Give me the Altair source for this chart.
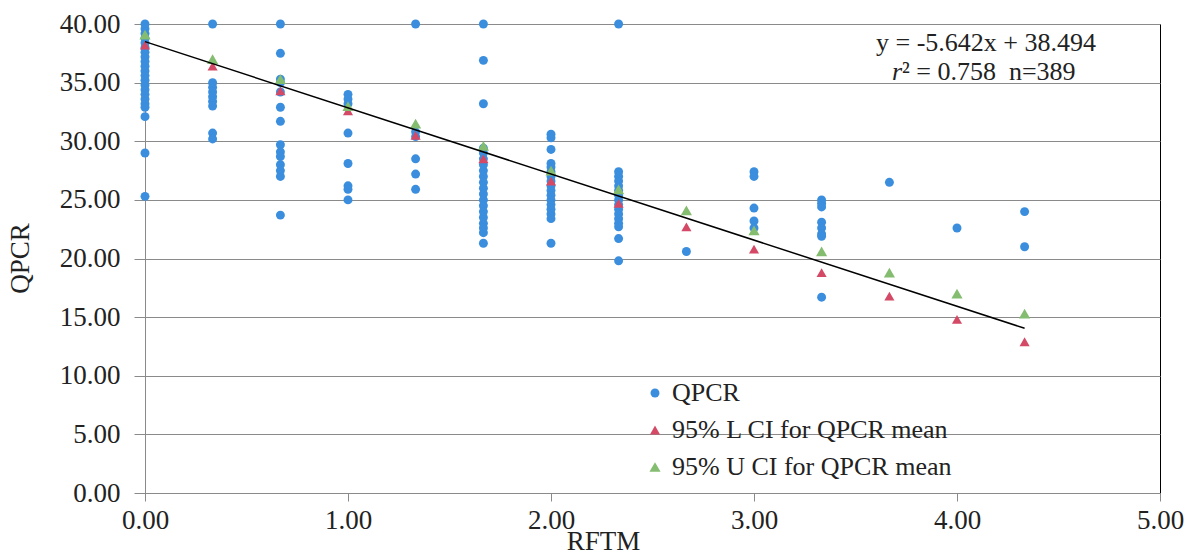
import altair as alt
import pandas as pd

# ---- data ----
rftm_levels = [0.0, 0.333, 0.667, 1.0, 1.333, 1.667, 2.0, 2.333, 2.667, 3.0, 3.333, 3.667, 4.0, 4.333]

qpcr_by_level = [
    [40.0, 39.6, 39.2, 38.8, 38.4, 38.0, 37.6, 37.2, 36.8, 36.4, 36.0, 35.6, 35.2, 34.8, 34.4, 34.0, 33.6, 33.2, 32.9, 32.1, 29.0, 25.3],
    [40.0, 35.0, 34.6, 34.2, 33.8, 33.4, 33.0, 30.7, 30.2],
    [40.0, 37.5, 35.3, 35.0, 34.2, 32.9, 31.7, 29.7, 29.1, 28.7, 28.0, 27.5, 27.0, 23.7],
    [34.0, 33.6, 33.2, 30.7, 28.1, 26.2, 25.9, 25.0],
    [40.0, 30.8, 30.4, 28.5, 27.2, 25.9],
    [40.0, 36.9, 33.2, 29.4, 29.0, 28.5, 28.0, 27.5, 27.0, 26.5, 26.0, 25.5, 25.0, 24.5, 24.0, 23.5, 23.0, 22.6, 22.2, 21.3],
    [30.6, 30.3, 29.3, 28.1, 27.8, 27.4, 27.0, 26.6, 26.2, 25.8, 25.4, 25.0, 24.6, 24.2, 23.8, 23.4, 21.3],
    [40.0, 27.4, 27.0, 26.6, 26.2, 25.8, 25.4, 25.0, 24.6, 24.2, 23.8, 23.4, 23.0, 22.7, 21.7, 19.8],
    [20.6],
    [27.4, 27.0, 24.3, 23.2, 22.6],
    [25.0, 24.7, 24.4, 23.1, 22.6, 22.1, 21.9, 16.7],
    [26.5],
    [22.6],
    [24.0, 21.0],
]

lower_ci = [38.2, 36.4, 34.3, 32.6, 30.5, 28.5, 26.6, 24.7, 22.7, 20.8, 18.8, 16.8, 14.8, 12.9]
upper_ci = [39.1, 37.0, 35.3, 33.0, 31.5, 29.6, 27.5, 25.9, 24.1, 22.4, 20.6, 18.8, 17.0, 15.3]

trend_x = [0.0, 4.333]
trend_y = [38.494, 14.047]

series_names = ["QPCR", "95% L CI for QPCR mean", "95% U CI for QPCR mean"]
series_colors = ["#3A8EDD", "#D44A66", "#85BD70"]
series_shapes = ["circle", "triangle-up", "triangle-up"]
series_sizes = [80, 125, 125]

eq_line1 = "y = -5.642x + 38.494"
eq_line2_r = "r"
eq_line2_rest = "\u00b2 = 0.758\u00a0\u00a0n=389"

# ---- build tables ----
rows = []
for x, vals in zip(rftm_levels, qpcr_by_level):
    for v in vals:
        rows.append({"RFTM": x, "QPCR": v, "series": series_names[0]})
for x, v in zip(rftm_levels, lower_ci):
    rows.append({"RFTM": x, "QPCR": v, "series": series_names[1]})
for x, v in zip(rftm_levels, upper_ci):
    rows.append({"RFTM": x, "QPCR": v, "series": series_names[2]})
df = pd.DataFrame(rows)
df["order"] = df["series"].map({n: i for i, n in enumerate(series_names)})

trend_df = pd.DataFrame({"RFTM": trend_x, "QPCR": trend_y})

FONT = "Liberation Serif"
TXT = "#222222"

xscale = alt.Scale(domain=[0, 5], nice=False)
yscale = alt.Scale(domain=[0, 40], nice=False)

points = alt.Chart(df).mark_point(filled=True, opacity=1, strokeWidth=0).encode(
    x=alt.X("RFTM:Q", scale=xscale,
            axis=alt.Axis(values=[0, 1, 2, 3, 4, 5], format=".2f", title="RFTM",
                          grid=False, tickSize=8, labelPadding=6, labelFlush=False,
                          titleX=458, titleY=48, titleBaseline="middle", titleAlign="center")),
    y=alt.Y("QPCR:Q", scale=yscale,
            axis=alt.Axis(values=[0, 5, 10, 15, 20, 25, 30, 35, 40], format=".2f", title="QPCR",
                          grid=True, tickSize=11, labelPadding=14, labelFlush=False,
                          titleX=-125, titleY=234, titleBaseline="middle", titleAlign="center",
                          titleAngle=-90)),
    color=alt.Color("series:N", scale=alt.Scale(domain=series_names, range=series_colors),
                    legend=alt.Legend(title=None, orient="none", legendX=497, legendY=356,
                                      symbolSize=60, labelOffset=4, rowPadding=11,
                                      labelFont=FONT, labelFontSize=26, labelColor=TXT,
                                      labelLimit=600, padding=0)),
    shape=alt.Shape("series:N", scale=alt.Scale(domain=series_names, range=series_shapes)),
    size=alt.Size("series:N", scale=alt.Scale(domain=series_names, range=series_sizes), legend=None),
    order=alt.Order("order:Q"),
)

trend = alt.Chart(trend_df).mark_line(color="black", strokeWidth=1.5).encode(
    x=alt.X("RFTM:Q", scale=xscale),
    y=alt.Y("QPCR:Q", scale=yscale),
)

t1 = alt.Chart(pd.DataFrame({"t": [eq_line1]})).mark_text(
    font=FONT, fontSize=26, color=TXT, align="center", baseline="middle"
).encode(text="t:N", x=alt.value(841), y=alt.value(19))

t2a = alt.Chart(pd.DataFrame({"t": [eq_line2_r]})).mark_text(
    font=FONT, fontSize=26, color=TXT, align="right", baseline="middle", fontStyle="italic"
).encode(text="t:N", x=alt.value(757), y=alt.value(48))

t2b = alt.Chart(pd.DataFrame({"t": [eq_line2_rest]})).mark_text(
    font=FONT, fontSize=26, color=TXT, align="left", baseline="middle"
).encode(text="t:N", x=alt.value(757), y=alt.value(48))

chart = alt.layer(points, trend, t1, t2a, t2b).properties(
    width=1015, height=469,
    autosize=alt.AutoSizeParams(type="none"),
    padding={"left": 145, "top": 24, "right": 28, "bottom": 64},
    background="white",
).configure_view(
    stroke="black", strokeWidth=1
).configure_axis(
    labelFont=FONT, labelFontSize=27, labelColor=TXT,
    titleFont=FONT, titleFontSize=27, titleColor=TXT, titleFontWeight="normal",
    domainColor="#8a8a8a", tickColor="#8a8a8a", gridColor="#8a8a8a",
    gridOpacity=1, domainWidth=1, tickWidth=1, gridWidth=1,
)

chart.save("out.html", embed_options={"renderer": "svg", "actions": False})
